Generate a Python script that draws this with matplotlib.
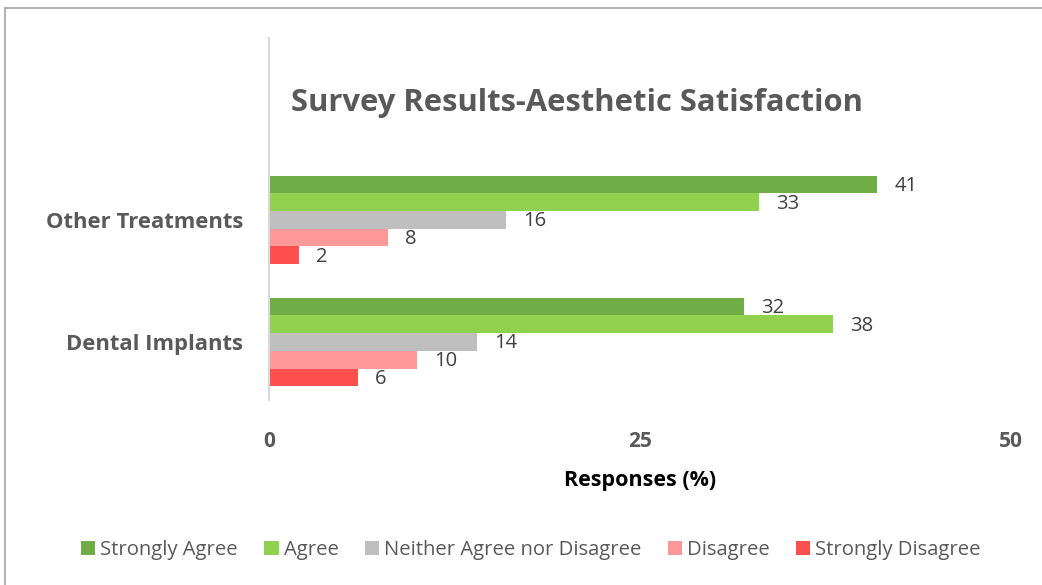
import matplotlib
matplotlib.use("Agg")
import matplotlib.pyplot as plt
from matplotlib.lines import Line2D
from matplotlib.patches import Patch
import numpy as np

plt.rcParams["font.family"] = ["Open Sans", "DejaVu Sans"]

categories = ["Dental Implants", "Other Treatments"]
series = ["Strongly Agree", "Agree", "Neither Agree nor Disagree", "Disagree", "Strongly Disagree"]
strongly_agree = [32, 41]
agree = [38, 33]
neither = [14, 16]
disagree = [10, 8]
strongly_disagree = [6, 2]
colors = ["#70ad47", "#92d050", "#bfbfbf", "#ff9999", "#ff5050"]

values = [strongly_agree, agree, neither, disagree, strongly_disagree]

fig = plt.figure(figsize=(10.42, 5.85), dpi=100)
ax = fig.add_axes([269 / 1042, 1 - 400 / 585, (1011 - 269) / 1042, (400 - 38) / 585])

y = np.arange(len(categories))
n = len(series)
bh = 0.145
for i, (name, vals, c) in enumerate(zip(series, values, colors)):
    offs = (n - 1) / 2 * bh - i * bh
    ax.barh(y + offs, vals, height=bh, color=c, label=name)
    for yi, v in zip(y, vals):
        ax.text(v + 1.15, yi + offs - 0.012, f"{v}", va="center", ha="left",
                fontsize=14.5, color="#404040")

ax.set_xlim(0, 50)
ax.set_ylim(-0.475, 2.49)
ax.set_xticks([0, 25, 50])
ax.set_xticklabels(["0", "25", "50"], fontsize=15, fontweight="bold", color="#595959")
ax.tick_params(axis="x", length=0, pad=22)
ax.set_yticks(y)
ax.set_yticklabels(categories, fontsize=15.8, fontweight="bold", color="#595959")
ax.tick_params(axis="y", length=0, pad=18.5)
for s in ["top", "right", "bottom"]:
    ax.spines[s].set_visible(False)
ax.spines["left"].set_color("#d9d9d9")
ax.spines["left"].set_linewidth(1.5)

ax.set_xlabel("Responses (%)", fontsize=15.5, fontweight="bold", color="black", labelpad=13)

fig.text(577 / 1042, 1 - 103 / 585, "Survey Results-Aesthetic Satisfaction",
         ha="center", va="center", fontsize=22.3, fontweight="bold", color="#595959")

handles = [Patch(facecolor=c, edgecolor="none") for c in colors]
fig.legend(handles, series, loc="center", bbox_to_anchor=(531 / 1042, 1 - 550 / 585),
           ncol=5, frameon=False, fontsize=14.6, handlelength=0.7, handleheight=0.7,
           handletextpad=0.25, columnspacing=1.3, labelcolor="#595959")

# outer chart border (top and left visible)
fig.add_artist(Line2D([5 / 1042, 5 / 1042], [0, 1 - 8 / 585], transform=fig.transFigure,
                      color="#a6a6a6", linewidth=1.2))
fig.add_artist(Line2D([5 / 1042, 1], [1 - 8 / 585, 1 - 8 / 585], transform=fig.transFigure,
                      color="#a6a6a6", linewidth=1.2))

fig.savefig("out.png", dpi=100)
